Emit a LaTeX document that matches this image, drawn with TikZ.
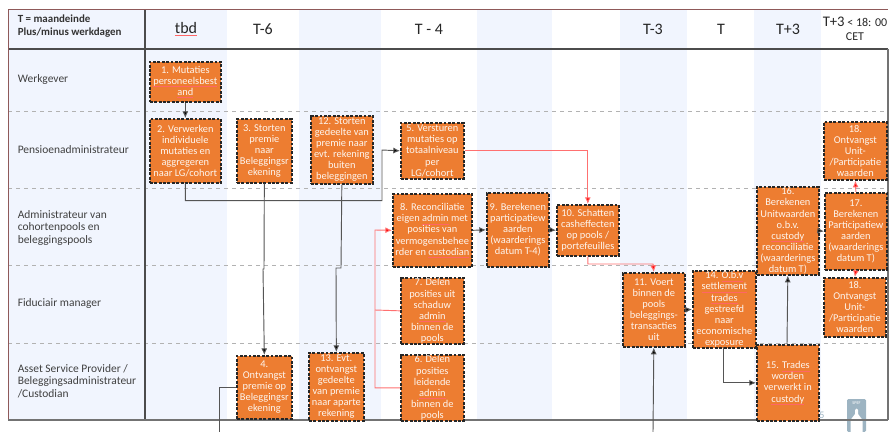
\documentclass[tikz,border=0pt]{standalone}
\usepackage{fontspec}
\setmainfont{Carlito}
\usetikzlibrary{arrows.meta,calc}
\definecolor{band}{HTML}{F1F5FE}
\definecolor{orng}{HTML}{ED7D31}
\definecolor{lin}{HTML}{555555}
\definecolor{redl}{HTML}{FF7070}
\definecolor{logoc}{HTML}{9DB4C2}
\newcommand\sq[1]{{\setbox0\hbox{#1}\rlap{\color{red!60}\rule[-1.5pt]{\wd0}{0.25pt}}\box0}}
\tikzset{
 x=0.75pt,y=-0.75pt,
 pbox/.style={draw=black!85,dash pattern=on 2.2pt off 1.1pt,line width=1.25pt,fill=orng,text=white!92!orng,align=center,inner sep=0pt,font=\fontsize{7.8}{8.3}\selectfont,anchor=north west},
 conn/.style={draw=lin,line width=.7pt,-{Latex[length=5pt,width=4.5pt,fill=black]}},
 rconn/.style={draw=redl,line width=.7pt,-{Latex[length=5pt,width=4.5pt,fill=red]}},
 nline/.style={draw=redl,line width=.7pt},
 gline/.style={draw=lin,line width=.7pt},
 rowlab/.style={anchor=west,align=left,text=black!75,font=\fontsize{8.6}{9.4}\selectfont},
 collab/.style={anchor=center,align=center,text=black!85,font=\fontsize{12}{12}\selectfont},
 rowsep/.style={draw=black!30,dashed,line width=.5pt},
}
\newcommand\pb[6]{\node[pbox,minimum width=#4*0.75pt-#2*0.75pt,minimum height=#5*0.75pt-#3*0.75pt] (#1) at (#2,#3) {#6};}
\begin{document}
\begin{tikzpicture}
\useasboundingbox (0,0) rectangle (889,432);
% bands
\fill[band] (8,9) rectangle (227,420);
\fill[band] (299,9) rectangle (381,420);
\fill[band] (477,9) rectangle (552,420);
\fill[band] (620,9) rectangle (687,420);
\fill[band] (754,9) rectangle (821,420);
% row separators
\foreach \yy in {111,188,265,343} \draw[rowsep] (8,\yy) -- (888,\yy);
% logo
\fill[rounded corners=1pt,fill=logoc] (847,399) rectangle (866,432);
\fill[white] (855,432) -- (850.5,432) -- (850.5,420) -- (855,414) -- (855,410) -- (856.5,408.5) -- (858,410) -- (858,414) -- (862.5,420) -- (862.5,432) -- cycle;
\node[text=white,font=\fontsize{3.2}{3.2}\selectfont,inner sep=0pt] (lg) at (856.5,403.5) {SPEF};
% frame
\draw[draw=black!70,line width=.8pt] (8,49) -- (888,49);
\draw[draw=black!70,line width=.8pt] (145,9) -- (145,420);
\draw[draw=black!30!red!30!gray,line width=.6pt] (8,420) -- (8,9) -- (888,9);
\draw[draw=black!55,line width=1.2pt] (8,420) -- (888,420);
\draw[draw=black!55,line width=1.2pt] (888,49) -- (888,420);
% header
\node[anchor=west,align=left,text=black!80,inner sep=0pt,font=\bfseries\fontsize{8.2}{9.4}\selectfont] (hd) at (17.5,26) {T = maandeinde\\Plus/minus werkdagen};
\node[collab] (c1) at (186,29) {\sq{tbd}};
\node[collab] (c2) at (263,29) {T-6};
\node[collab] (c3) at (429,29) {T - 4};
\node[collab] (c4) at (653,29) {T-3};
\node[collab] (c5) at (721,29) {T};
\node[collab] (c6) at (788,29) {T+3};
\node[collab,font=\fontsize{9}{10.5}\selectfont] (c7) at (855,29) {{\fontsize{11}{11}\selectfont T+3} < 18: 00\\CET};
% row labels
\node[rowlab,inner sep=0pt] (r1) at (17.5,80) {Werkgever};
\node[rowlab,inner sep=0pt] (r2) at (17.5,150) {Pensioenadministrateur};
\node[rowlab,inner sep=0pt] (r3) at (17.5,228) {Administrateur van\\cohortenpools en\\beleggingspools};
\node[rowlab,inner sep=0pt] (r4) at (17.5,304) {Fiduciair manager};
\node[rowlab,inner sep=0pt] (r5) at (17.5,381) {Asset Service Provider /\\Beleggingsadministrateur\\/Custodian};
% boxes
\pb{n1}{149}{61}{220}{101}{1. Mutaties\\\sq{personeelsbest}\\\sq{and}}
\pb{n2}{149}{118}{220}{182}{2. Verwerken\\individuele\\mutaties en\\aggregeren\\naar LG/cohort}
\pb{n3}{236}{118}{291}{182}{3. Storten\\premie\\naar\\Beleggingsr\\ekening}
\pb{n12}{310}{115}{372}{183}{12. Storten\\gedeelte van\\premie naar\\evt. rekening\\buiten\\beleggingen}
\pb{n5}{400}{122}{463}{178}{5. Versturen\\mutaties op\\totaalniveau\\per\\LG/cohort}
\pb{n8}{392}{193}{471}{266}{8. Reconciliatie\\eigen \sq{admin} met\\posities van\\vermogensbehee\\rder en \sq{custodian}}
\pb{n9}{486}{192}{548}{266}{9. Berekenen\\participatiew\\aarden\\(waarderings\\datum T-4)}
\pb{n10}{556}{204}{618}{255}{10. Schatten\\casheffecten\\op pools /\\portefeuilles}
\pb{n18a}{823}{121}{886}{179}{18.\\Ontvangst\\Unit-\\/Participatie\\waarden}
\pb{n16}{756}{186}{818}{274}{16.\\Berekenen\\Unitwaarden\\o.b.v.\\\sq{custody}\\reconciliatie\\(waarderings\\datum T)}
\pb{n17}{824}{192}{886}{269}{17.\\Berekenen\\Participatiew\\aarden\\(waarderings\\datum T)}
\pb{n18b}{823}{277}{885}{336}{18.\\Ontvangst\\Unit-\\/Participatie\\waarden}
\pb{n7}{400}{277}{463}{343}{7. Delen\\posities uit\\schaduw\\\sq{admin}\\binnen de\\pools}
\pb{n6}{400}{354}{463}{420}{6. Delen\\posities\\leidende\\\sq{admin}\\binnen de\\pools}
\pb{n4}{236}{355}{291}{418}{4.\\Ontvangst\\premie op\\Beleggingsr\\ekening}
\pb{n13}{308}{352}{363}{420}{13. Evt.\\ontvangst\\gedeelte\\van premie\\naar aparte\\rekening}
\pb{n11}{622}{272}{684}{346}{11. Voert\\binnen de\\pools\\beleggings-\\transacties\\uit}
\pb{n14}{692}{270}{755}{347}{14. \sq{O.b.v}\\\sq{settlement}\\\sq{trades}\\gestreefd\\naar\\economische\\exposure}
\pb{n15}{756}{344}{818}{420}{15. \sq{Trades}\\worden\\verwerkt in\\\sq{custody}}
% free ends and junctions
\coordinate (f4) at (219,432);
\coordinate (f11) at (653,432);
\coordinate (j7) at (375,310);
\coordinate (j6) at (375,230);
% connectors
\draw[conn] (n1.south) -- (n2.north);
\draw[conn] (n2.south) -- ++(0,17) -| (382,150) -- (n5.west);
\draw[conn] (n3.south) -- (264,269) -- (263,269) -- (n4.north);
\draw[conn] (n12.south) -- (341,268) -- (336,268) -- (n13.north);
\draw[rconn] (n5.east) -| (n10.north);
\draw[rconn] (n6.west) -| (j6) -- (n8.west);
\draw[nline] (n7.west) -- (j7);
\draw[conn] (n8.east) -- (n9.west);
\draw[conn] (n9.east) -- (n10.west);
\draw[rconn] (n10.south) |- (653,264) -- (n11.north);
\draw[conn] (n11.east) -- (n14.west);
\draw[conn] (723,347) |- (n15.west);
\draw[conn] (787,344) -- (n16.south);
\draw[conn] (n16.east) -- (n17.west);
\draw[rconn] (n17.north) -- (n18a.south);
\draw[rconn] (n17.south) -- (n18b.north);
\draw[gline] (n4.west) -| (f4);
\draw[conn] (f11) -- (n11.south);
% page number
\node[text=logoc,font=\fontsize{7.5}{7.5}\selectfont,inner sep=0pt] (pg) at (822,415) {5};
\end{tikzpicture}
\end{document}
